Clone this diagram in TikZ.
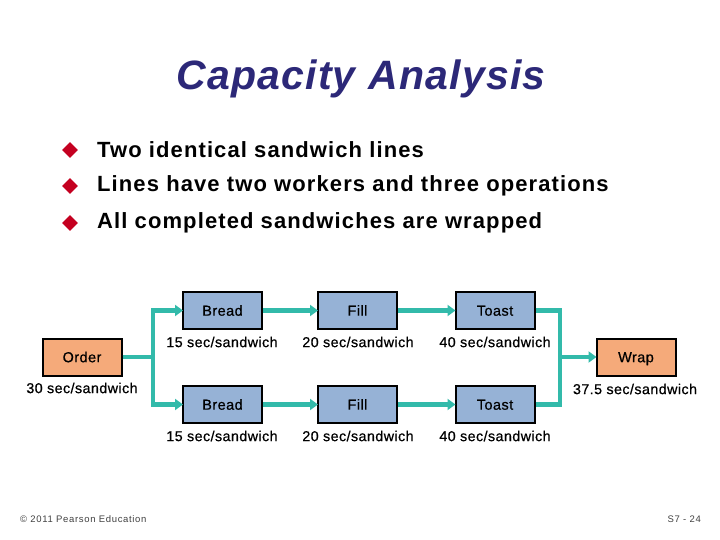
\documentclass[tikz,border=0pt]{standalone}
\usepackage{fontspec}
\setmainfont{Liberation Sans}
\newfontfamily\bulletfont[LetterSpace=5]{Liberation Sans}
\newfontfamily\titlefont[LetterSpace=3]{Liberation Sans}
\newfontfamily\diagfont[LetterSpace=3,FakeBold=0.6]{Liberation Sans}
\newfontfamily\footfont[LetterSpace=7]{Liberation Sans}
\usetikzlibrary{shapes.geometric,arrows.meta}
\definecolor{titlecol}{RGB}{44,40,120}
\definecolor{bulletred}{RGB}{196,0,32}
\definecolor{boxblue}{RGB}{150,178,214}
\definecolor{boxorange}{RGB}{245,170,122}
\definecolor{teal}{RGB}{50,186,170}
\tikzset{
  proc/.style={draw=black,line width=2pt,fill=boxblue,minimum width=79pt,minimum height=37pt,inner sep=0pt,text height=10.4pt,text depth=0pt,font=\diagfont\fontsize{14.5}{16}\selectfont},
  proco/.style={proc,fill=boxorange},
  rate/.style={font=\diagfont\fontsize{14.3}{16}\selectfont,inner sep=0pt},
  conn/.style={draw=teal,line width=4.2pt},
  arr/.style={conn,-{Triangle[length=8pt,width=11pt]},shorten >=-1pt},
  bul/.style={diamond,fill=bulletred,minimum width=16pt,minimum height=16pt,inner sep=0pt},
  bultext/.style={anchor=west,inner sep=0pt,font=\bulletfont\bfseries\fontsize{22}{26}\selectfont},
  foot/.style={inner sep=0pt,font=\footfont\fontsize{9.5}{10}\selectfont,text=black!75}
}
\begin{document}
\begin{tikzpicture}[x=1pt,y=-1pt]
\useasboundingbox (0,0) rectangle (720,540);
\node[font=\titlefont\bfseries\itshape\fontsize{41}{46}\selectfont,text=titlecol] (title) at (361,79) {Capacity Analysis};

\node[bul] (b1) at (70,150) {};
\node[bultext] (t1) at (97,150) {Two identical sandwich lines};
\node[bul] (b2) at (70,186) {};
\node[bultext] (t2) at (97,186) {Lines have two workers and three operations};
\node[bul] (b3) at (70,223) {};
\node[bultext] (t3) at (97,223) {All completed sandwiches are wrapped};

\node[proco] (order) at (82,357) {Order};
\node[rate] (ordr) at (82,388) {30 sec/sandwich};

\node[proc] (bread1) at (222.5,310.5) {Bread};
\node[proc] (fill1) at (357.5,310.5) {Fill};
\node[proc] (toast1) at (495,310.5) {Toast};
\node[proc] (bread2) at (222.5,404.5) {Bread};
\node[proc] (fill2) at (357.5,404.5) {Fill};
\node[proc] (toast2) at (495,404.5) {Toast};

\node[rate] (r1) at (222,342) {15 sec/sandwich};
\node[rate] (r2) at (358,342) {20 sec/sandwich};
\node[rate] (r3) at (495,342) {40 sec/sandwich};
\node[rate] (r4) at (222,436) {15 sec/sandwich};
\node[rate] (r5) at (358,436) {20 sec/sandwich};
\node[rate] (r6) at (495,436) {40 sec/sandwich};

\node[proco] (wrap) at (636,357) {Wrap};
\node[rate] (wrapr) at (635,389) {37.5 sec/sandwich};

\coordinate (jl) at (153,357);
\coordinate (jr) at (560,357);

\draw[conn] (order.east) -- (jl);
\draw[conn] (153,308.4) -- (153,406.6);
\draw[arr] (153,310.5) -- (bread1.west);
\draw[arr] (153,404.5) -- (bread2.west);
\draw[arr] (bread1) -- (fill1);
\draw[arr] (fill1) -- (toast1);
\draw[arr] (bread2) -- (fill2);
\draw[arr] (fill2) -- (toast2);
\draw[conn] (toast1.east) -- (562.1,310.5);
\draw[conn] (toast2.east) -- (562.1,404.5);
\draw[conn] (560,308.4) -- (560,406.6);
\draw[arr] (jr) -- (wrap.west);

\node[foot,anchor=west] (copy) at (20,519) {\textcopyright\ 2011 Pearson Education};
\node[foot,anchor=east] (page) at (701,519) {S7 - 24};
\end{tikzpicture}
\end{document}
